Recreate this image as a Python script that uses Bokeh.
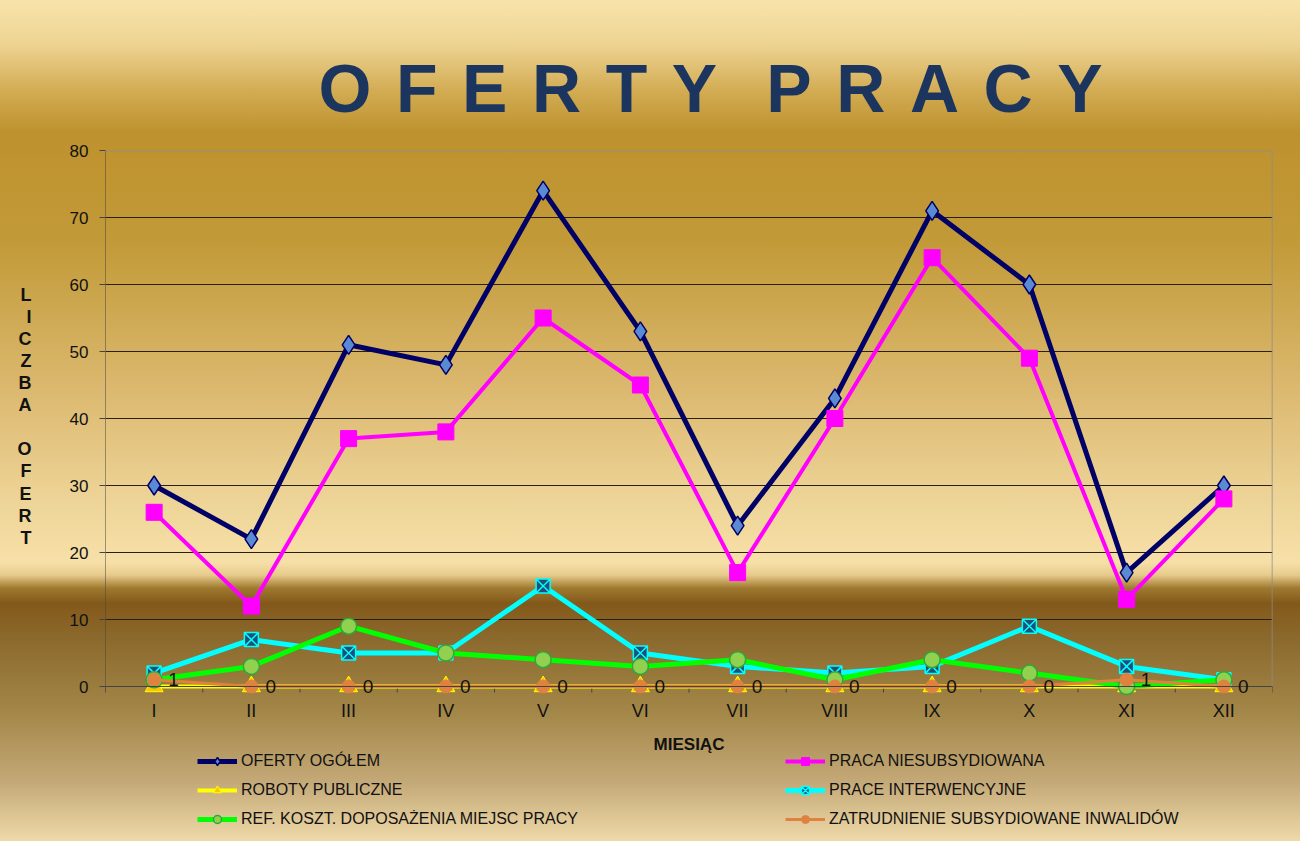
from bokeh.plotting import figure
from bokeh.models import (ColumnDataSource, FixedTicker, Legend, LegendItem,
                          Range1d, LabelSet, Label, Span)
from bokeh.core.properties import value
from bokeh.embed import file_html
from bokeh.resources import INLINE

months = ["I", "II", "III", "IV", "V", "VI", "VII", "VIII", "IX", "X", "XI", "XII"]
oferty_ogolem = [30, 22, 51, 48, 74, 53, 24, 43, 71, 60, 17, 30]
praca_niesubs = [26, 12, 37, 38, 55, 45, 17, 40, 64, 49, 13, 28]
roboty_publiczne = [0, 0, 0, 0, 0, 0, 0, 0, 0, 0, 0, 0]
prace_interw = [2, 7, 5, 5, 15, 5, 3, 2, 3, 9, 3, 1]
ref_koszt = [1, 3, 9, 5, 4, 3, 4, 1, 4, 2, 0, 1]
zatr_inwalidow = [1, 0, 0, 0, 0, 0, 0, 0, 0, 0, 1, 0]
y_ticks = [0, 10, 20, 30, 40, 50, 60, 70, 80]

FONT = "Liberation Sans"
W, H = 1300, 841
LEFT, RIGHT = 105, 1272
TOP, ZERO, BOTTOM = 150, 686, 836       # canvas px of y=80, y=0 and frame bottom
ymax = y_ticks[-1]
ppu = (ZERO - TOP) / ymax                # px per unit
ymin = -(BOTTOM - ZERO) / ppu
n = len(months)
x = list(range(1, n + 1))
x0, x1 = 0.5, n + 0.5
tick_len = 6 / ppu

src = ColumnDataSource(dict(
    x=x, months=months, zero=[0] * n,
    oferty=oferty_ogolem, praca=praca_niesubs, roboty=roboty_publiczne,
    interw=prace_interw, ref=ref_koszt, zatr=zatr_inwalidow,
    zatr_txt=[str(v) for v in zatr_inwalidow],
))
bounds = [v - 0.5 for v in x] + [x1]
tick_src = ColumnDataSource(dict(x=bounds, y0=[0] * len(bounds), y1=[-tick_len] * len(bounds)))

p = figure(width=W, height=H, output_backend="svg", toolbar_location=None,
           x_range=Range1d(x0, x1), y_range=Range1d(ymin, ymax),
           x_axis_location=None,
           min_border_left=LEFT, min_border_right=W - RIGHT, min_border_top=TOP,
           min_border_bottom=H - BOTTOM)

p.styles = {"background": "linear-gradient(to bottom, #f7e3aa 0px, #efd595 42px, #d2ab52 92px, "
            "#be922e 132px, #c29a38 242px, #dcb970 392px, #ecd294 492px, #f7e0a8 562px, "
            "#e7cb8c 575px, #a07a30 588px, #83591a 603px, #8c6a2e 640px, #a38748 712px, "
            "#c4a978 782px, #efd9a8 841px)"}
p.background_fill_color = None
p.border_fill_color = None
p.outline_line_color = None

NB = "\u00a0"
GAP = NB + "\u200a"
p.title.text = GAP.join("OFERTY") + GAP * 2 + GAP.join("PRACY")
p.title.align = "left"
p.title.offset = 213
p.title.text_font = FONT
p.title.text_font_size = "68px"
p.title.text_font_style = "bold"
p.title.text_color = "#1b355f"
p.title.standoff = 49

# y axis
p.yaxis.ticker = FixedTicker(ticks=y_ticks)
p.yaxis.major_label_text_font = FONT
p.yaxis.major_label_text_font_size = "17px"
p.yaxis.major_label_text_color = "#111111"
p.yaxis.major_tick_out = 6
p.yaxis.major_tick_in = 0
p.yaxis.minor_tick_line_color = None
p.yaxis.axis_line_color = None
p.yaxis.major_tick_line_color = "#444444"
p.yaxis.major_label_standoff = 11
# trailing blank lines lift the stacked letters to the centre of the 0-80 scale
p.yaxis.axis_label = "\n".join("LICZBA") + "\n" + NB + "\n" + "\n".join("OFERT") + ("\n" + NB) * 7
p.yaxis.axis_label_orientation = "horizontal"
p.yaxis.axis_label_text_font = FONT
p.yaxis.axis_label_text_font_size = "18px"
p.yaxis.axis_label_text_font_style = "bold"
p.yaxis.axis_label_text_color = "#111111"
p.yaxis.axis_label_text_line_height = 1.105
p.yaxis.axis_label_standoff = 35

p.xgrid.grid_line_color = None
p.ygrid.ticker = FixedTicker(ticks=y_ticks[:-1])
p.ygrid.grid_line_color = "#2a2010"
p.ygrid.grid_line_width = 1

# frame borders (top, right) and axis lines
p.add_layout(Span(location=ymax, dimension="width", line_color="#8c8c8c", line_width=1.5))
p.segment(x0=[x1], y0=[0], x1=[x1], y1=[ymax], line_color="#8c8c8c", line_width=1.5)
p.segment(x0=[x0], y0=[-tick_len], x1=[x0], y1=[ymax], line_color="#444444", line_width=1)
p.add_layout(Span(location=0, dimension="width", line_color="#444444", line_width=1))
p.segment(x0="x", y0="y0", x1="x", y1="y1", source=tick_src, line_color="#444444", line_width=1)

items = []

l1 = p.line("x", "oferty", source=src, line_color="#000066", line_width=5)
m1 = p.scatter("x", "oferty", source=src, marker="diamond", size=19,
               fill_color="#5b8ad4", line_color="#000066", line_width=1.5)
items.append(LegendItem(label="OFERTY OGÓŁEM", renderers=[l1, m1]))

l2 = p.line("x", "praca", source=src, line_color="#ff00ff", line_width=4)
m2 = p.scatter("x", "praca", source=src, marker="square", size=16,
               fill_color="#ff00ff", line_color="#ff00ff")
items.append(LegendItem(label="PRACA NIESUBSYDIOWANA", renderers=[l2, m2]))

l3 = p.line("x", "roboty", source=src, line_color="#ffff00", line_width=4)
m3 = p.scatter("x", "roboty", source=src, marker="triangle", size=18,
               fill_color="#ffc400", line_color="#ffff00", line_width=1)
items.append(LegendItem(label="ROBOTY PUBLICZNE", renderers=[l3, m3]))

l4 = p.line("x", "interw", source=src, line_color="#00ffff", line_width=5)
m4 = p.scatter("x", "interw", source=src, marker="square_x", size=14,
               fill_color="#1f4e79", line_color="#00ffff", line_width=1.5)
items.append(LegendItem(label="PRACE INTERWENCYJNE", renderers=[l4, m4]))

l5 = p.line("x", "ref", source=src, line_color="#00ff00", line_width=5)
m5 = p.scatter("x", "ref", source=src, marker="circle", size=16,
               fill_color="#92d050", line_color="#2ea83a", line_width=1.5)
items.append(LegendItem(label="REF. KOSZT. DOPOSAŻENIA MIEJSC PRACY", renderers=[l5, m5]))

l6 = p.line("x", "zatr", source=src, line_color="#e0823f", line_width=3)
m6 = p.scatter("x", "zatr", source=src, marker="circle", size=13,
               fill_color="#e0823f", line_color="#e0823f")
items.append(LegendItem(label="ZATRUDNIENIE SUBSYDIOWANE INWALIDÓW", renderers=[l6, m6]))

p.add_layout(LabelSet(x="x", y="zatr", text="zatr_txt", source=src, x_offset=14,
                      text_baseline="middle", text_align="left", text_font=value(FONT),
                      text_font_size="19px", text_color="#111111"))

# x axis category labels and title
p.add_layout(LabelSet(x="x", y="zero", text="months", source=src, y_offset=-24,
                      text_baseline="middle", text_align="center", text_font=value(FONT),
                      text_font_size="18px", text_color="#111111"))
p.add_layout(Label(x=(x0 + x1) / 2, y=0, y_offset=-58, text="MIESIĄC",
                   text_baseline="middle", text_align="center", text_font=FONT,
                   text_font_size="17px", text_font_style="bold", text_color="#111111"))

legend = Legend(items=items, location=(92, 7), orientation="horizontal", ncols=2,
                glyph_width=40, glyph_height=20, label_height=20, label_width=535,
                label_standoff=4, spacing=9, padding=4,
                label_text_font=FONT, label_text_font_size="16px",
                label_text_color="#111111",
                background_fill_alpha=0, border_line_color=None)
p.add_layout(legend, "center")

open("out.html", "w").write(file_html(p, INLINE))
